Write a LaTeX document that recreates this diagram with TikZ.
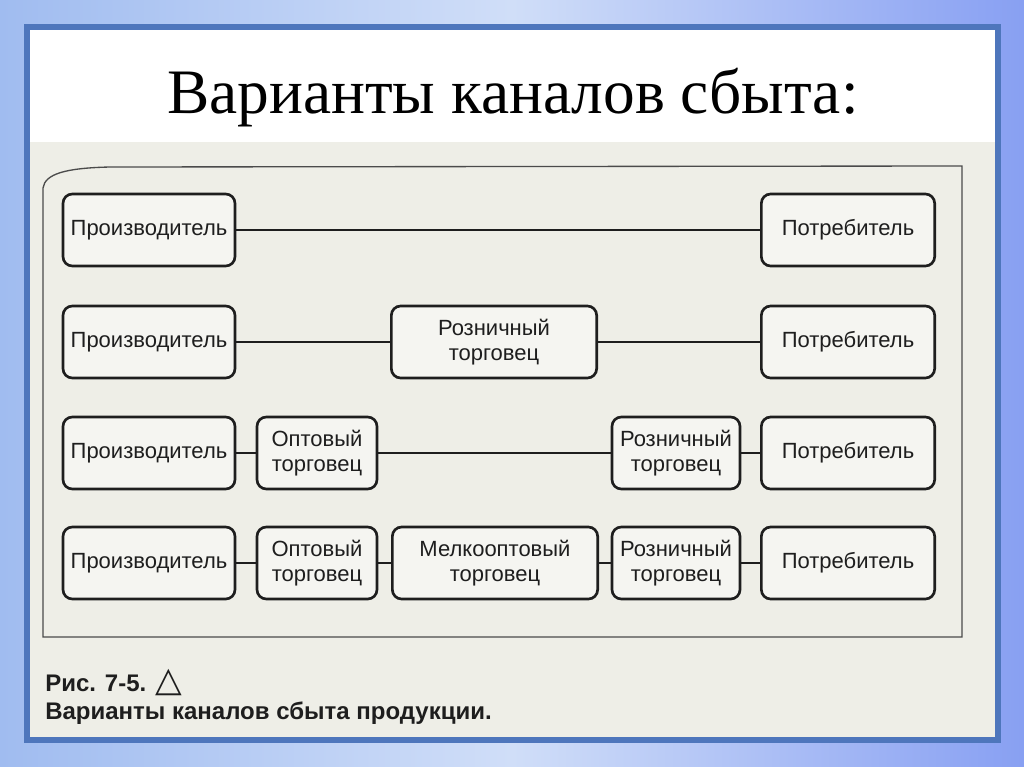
\documentclass[tikz,border=0pt]{standalone}
\usepackage{fontspec}
\setmainfont{Liberation Serif}
\setsansfont{Liberation Sans}
\newfontfamily\symfont{DejaVu Sans}
\usepackage{tikz}
\usetikzlibrary{calc}
\definecolor{bgout}{RGB}{160,188,240}
\definecolor{bglight}{RGB}{208,222,248}
\definecolor{sframe}{RGB}{78,118,188}
\definecolor{paper}{RGB}{238,238,231}
\definecolor{ink}{RGB}{30,30,30}

\begin{document}
\begin{tikzpicture}[x=0.75pt, y=-0.75pt,
    BOX/.style={draw=ink, fill=paper!60!white, line width=2pt, rounded corners=7pt, minimum height=54pt, inner sep=2pt, align=center, font=\sffamily\fontsize{16.5}{19}\selectfont, text=ink},
    LNK/.style={draw=ink, line width=1.6pt}
    ]
    \useasboundingbox (0,0) rectangle (1024,767);
    \shade[left color=bgout, right color=bgout!85!blue, middle color=bglight] (0,0) rectangle (1024,767);
    \fill[white] (27,27) rectangle (998,740);
    \fill[paper] (30,142) rectangle (995,738);
    \draw[sframe, line width=4pt] (27,27) rectangle (998,740);
    \node[font=\fontsize{47.5}{52}\selectfont] (title) at (513,98) {Варианты каналов сбыта:};
    \draw[ink!80, line width=1pt] (43,637) -- (43,188) .. controls (45,174) and (65,168) .. (110,167) -- (962,166) -- (962,637) -- cycle;

    \node[BOX, minimum width=129pt] (P1) at (149,230) {Производитель};
    \node[BOX, minimum width=130pt] (C1) at (848,230) {Потребитель};
    \draw[LNK] (P1.east) -- (C1.west);

    \node[BOX, minimum width=129pt] (P2) at (149,342) {Производитель};
    \node[BOX, minimum width=154pt] (R2) at (494,342) {Розничный\\торговец};
    \node[BOX, minimum width=130pt] (C2) at (848,342) {Потребитель};
    \draw[LNK] (P2.east) -- (R2.west);
    \draw[LNK] (R2.east) -- (C2.west);

    \node[BOX, minimum width=129pt] (P3) at (149,453) {Производитель};
    \node[BOX, minimum width=90pt] (W3) at (317,453) {Оптовый\\торговец};
    \node[BOX, minimum width=96pt] (R3) at (676,453) {Розничный\\торговец};
    \node[BOX, minimum width=130pt] (C3) at (848,453) {Потребитель};
    \draw[LNK] (P3.east) -- (W3.west);
    \draw[LNK] (W3.east) -- (R3.west);
    \draw[LNK] (R3.east) -- (C3.west);

    \node[BOX, minimum width=129pt] (P4) at (149,563) {Производитель};
    \node[BOX, minimum width=90pt] (W4) at (317,563) {Оптовый\\торговец};
    \node[BOX, minimum width=154pt] (S4) at (495,563) {Мелкооптовый\\торговец};
    \node[BOX, minimum width=96pt] (R4) at (676,563) {Розничный\\торговец};
    \node[BOX, minimum width=130pt] (C4) at (848,563) {Потребитель};
    \draw[LNK] (P4.east) -- (W4.west);
    \draw[LNK] (W4.east) -- (S4.west);
    \draw[LNK] (S4.east) -- (R4.west);
    \draw[LNK] (R4.east) -- (C4.west);

    \node[anchor=base west, inner sep=0pt, text=ink, font=\sffamily\bfseries\fontsize{18}{20}\selectfont] (fig) at (45,691) {Рис. 7-5. {\symfont\bfseries\fontsize{26}{26}\selectfont △}};
    \node[anchor=base west, inner sep=0pt, text=ink, font=\sffamily\bfseries\fontsize{18}{20}\selectfont] (cap) at (45,719) {Варианты каналов сбыта продукции.};
\end{tikzpicture}
\end{document}
